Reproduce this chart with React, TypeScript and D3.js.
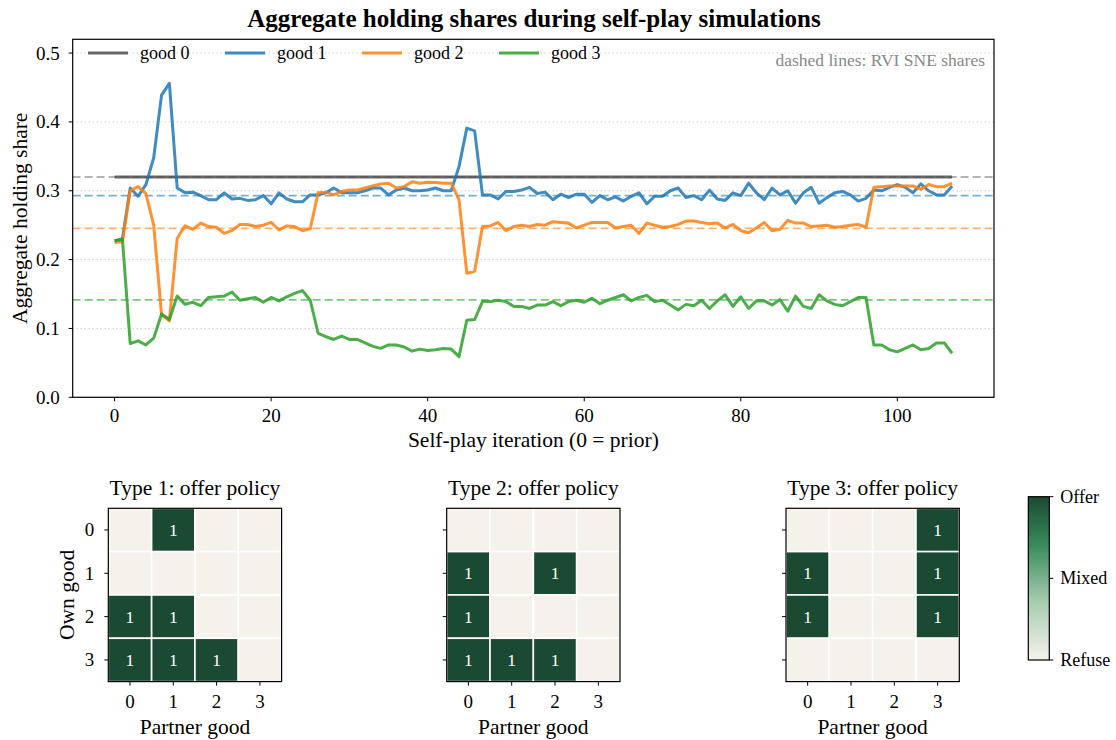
import React from "react";
import * as d3 from "d3";

// ---- data ----
const iterations = d3.range(0, 108);

const good0 = [
  0.32, 0.32, 0.32, 0.32, 0.32, 0.32, 0.32, 0.32, 0.32, 0.32, 0.32, 0.32,
  0.32, 0.32, 0.32, 0.32, 0.32, 0.32, 0.32, 0.32, 0.32, 0.32, 0.32, 0.32,
  0.32, 0.32, 0.32, 0.32, 0.32, 0.32, 0.32, 0.32, 0.32, 0.32, 0.32, 0.32,
  0.32, 0.32, 0.32, 0.32, 0.32, 0.32, 0.32, 0.32, 0.32, 0.32, 0.32, 0.32,
  0.32, 0.32, 0.32, 0.32, 0.32, 0.32, 0.32, 0.32, 0.32, 0.32, 0.32, 0.32,
  0.32, 0.32, 0.32, 0.32, 0.32, 0.32, 0.32, 0.32, 0.32, 0.32, 0.32, 0.32,
  0.32, 0.32, 0.32, 0.32, 0.32, 0.32, 0.32, 0.32, 0.32, 0.32, 0.32, 0.32,
  0.32, 0.32, 0.32, 0.32, 0.32, 0.32, 0.32, 0.32, 0.32, 0.32, 0.32, 0.32,
  0.32, 0.32, 0.32, 0.32, 0.32, 0.32, 0.32, 0.32, 0.32, 0.32, 0.32, 0.32,
];

const good1 = [
  0.227, 0.23, 0.304, 0.292, 0.309, 0.348, 0.439, 0.456, 0.304, 0.297,
  0.298, 0.293, 0.287, 0.287, 0.297, 0.288, 0.289, 0.286, 0.287, 0.293,
  0.281, 0.297, 0.288, 0.284, 0.284, 0.294, 0.294, 0.297, 0.304, 0.297,
  0.297, 0.297, 0.3, 0.304, 0.304, 0.294, 0.301, 0.304, 0.3, 0.3,
  0.301, 0.304, 0.3, 0.3, 0.335, 0.391, 0.387, 0.294, 0.294, 0.288,
  0.299, 0.299, 0.301, 0.305, 0.296, 0.298, 0.287, 0.295, 0.29, 0.295,
  0.295, 0.283, 0.293, 0.287, 0.291, 0.285, 0.292, 0.297, 0.281, 0.292,
  0.292, 0.3, 0.304, 0.29, 0.293, 0.287, 0.301, 0.288, 0.286, 0.297,
  0.293, 0.311, 0.297, 0.287, 0.304, 0.294, 0.3, 0.282, 0.297, 0.305,
  0.282, 0.29, 0.297, 0.299, 0.294, 0.285, 0.289, 0.301, 0.3, 0.305,
  0.309, 0.305, 0.297, 0.31, 0.3, 0.294, 0.294, 0.307,
];

const good2 = [
  0.225, 0.226, 0.3, 0.306, 0.296, 0.25, 0.12, 0.111, 0.231, 0.249,
  0.244, 0.253, 0.248, 0.247, 0.238, 0.242, 0.251, 0.251, 0.248, 0.25,
  0.254, 0.243, 0.249, 0.248, 0.242, 0.245, 0.297, 0.298, 0.294, 0.299,
  0.301, 0.301, 0.304, 0.307, 0.31, 0.311, 0.304, 0.306, 0.313, 0.311,
  0.3125, 0.312, 0.311, 0.311, 0.287, 0.18, 0.183, 0.248, 0.249, 0.254,
  0.242, 0.248, 0.25, 0.248, 0.251, 0.25, 0.255, 0.254, 0.253, 0.246,
  0.25, 0.254, 0.254, 0.254, 0.246, 0.248, 0.25, 0.238, 0.253, 0.25,
  0.247, 0.248, 0.251, 0.256, 0.256, 0.254, 0.252, 0.253, 0.246, 0.251,
  0.242, 0.239, 0.246, 0.254, 0.242, 0.244, 0.257, 0.253, 0.253, 0.248,
  0.249, 0.25, 0.247, 0.248, 0.25, 0.251, 0.247, 0.305, 0.306, 0.307,
  0.307, 0.307, 0.307, 0.302, 0.309, 0.306, 0.306, 0.311,
];

const good3 = [
  0.227, 0.23, 0.078, 0.082, 0.076, 0.086, 0.121, 0.113, 0.147, 0.135,
  0.138, 0.133, 0.145, 0.146, 0.147, 0.153, 0.141, 0.143, 0.145, 0.138,
  0.145, 0.14, 0.146, 0.151, 0.155, 0.141, 0.093, 0.088, 0.084, 0.089,
  0.084, 0.084, 0.079, 0.074, 0.071, 0.076, 0.076, 0.073, 0.067, 0.07,
  0.068, 0.069, 0.071, 0.07, 0.059, 0.112, 0.113, 0.139, 0.139, 0.141,
  0.139, 0.132, 0.132, 0.129, 0.134, 0.134, 0.139, 0.133, 0.139, 0.141,
  0.138, 0.144, 0.136, 0.141, 0.145, 0.149, 0.14, 0.145, 0.148, 0.139,
  0.141, 0.134, 0.127, 0.135, 0.133, 0.141, 0.129, 0.14, 0.149, 0.132,
  0.146, 0.129, 0.14, 0.14, 0.134, 0.142, 0.125, 0.147, 0.132, 0.129,
  0.149, 0.14, 0.135, 0.133, 0.139, 0.145, 0.145, 0.076, 0.076, 0.069,
  0.066, 0.071, 0.076, 0.069, 0.071, 0.079, 0.079, 0.064,
];

const seriesNames = ["good 0", "good 1", "good 2", "good 3"];
const seriesColors = ["#4d4d4d", "#1f77b4", "#ff7f0e", "#2ca02c"];
const sneShares = [0.32, 0.293, 0.2455, 0.1415];
const sneColors = ["#808080", "#1f77b4", "#ff7f0e", "#2ca02c"];
const yTicks = [0, 0.1, 0.2, 0.3, 0.4, 0.5];
const xTicks = [0, 20, 40, 60, 80, 100];

const goods = [0, 1, 2, 3];
const typeTitles = ["Type 1: offer policy", "Type 2: offer policy", "Type 3: offer policy"];
const type1Policy = [
  [0, 1, 0, 0],
  [0, 0, 0, 0],
  [1, 1, 0, 0],
  [1, 1, 1, 0],
];
const type2Policy = [
  [0, 0, 0, 0],
  [1, 0, 1, 0],
  [1, 0, 0, 0],
  [1, 1, 1, 0],
];
const type3Policy = [
  [0, 0, 0, 1],
  [1, 0, 0, 1],
  [1, 0, 0, 1],
  [0, 0, 0, 0],
];
const colorbarLabels = ["Refuse", "Mixed", "Offer"];

const FONT = "'Liberation Serif', 'DejaVu Serif', serif";
const TICK_FS = 19;
const LABEL_FS = 21.5;

function Heatmap({ x0, title, policy, showY, color }) {
  const size = 173.3;
  const top = 508.3;
  const bx = d3.scaleBand().domain(goods).range([x0, x0 + size]);
  const by = d3.scaleBand().domain(goods).range([top, top + size]);
  const bw = bx.bandwidth();
  return (
    <g>
      <text x={x0 + size / 2} y={495} textAnchor="middle" fontSize={LABEL_FS} fontFamily={FONT}>
        {title}
      </text>
      {policy.map((row, r) =>
        row.map((v, c) => (
          <g key={`${r}-${c}`}>
            <rect x={bx(c)} y={by(r)} width={bw} height={bw} fill={color(v)} stroke="#fff" strokeWidth={1.6} />
            {v > 0.5 && (
              <text
                x={bx(c) + bw / 2}
                y={by(r) + bw / 2 + 6}
                textAnchor="middle"
                fontSize={17.5}
                fill="#fff"
                fontFamily={FONT}
              >
                {v}
              </text>
            )}
          </g>
        ))
      )}
      <rect x={x0} y={top} width={size} height={size} fill="none" stroke="#000" strokeWidth={1.2} />
      {goods.map((g) => (
        <g key={`xt${g}`}>
          <line x1={bx(g) + bw / 2} x2={bx(g) + bw / 2} y1={top + size} y2={top + size + 4} stroke="#000" />
          <text x={bx(g) + bw / 2} y={top + size + 26} textAnchor="middle" fontSize={TICK_FS} fontFamily={FONT}>
            {g}
          </text>
          <line x1={x0 - 4} x2={x0} y1={by(g) + bw / 2} y2={by(g) + bw / 2} stroke="#000" />
          {showY && (
            <text x={x0 - 14} y={by(g) + bw / 2 + 6.5} textAnchor="end" fontSize={TICK_FS} fontFamily={FONT}>
              {g}
            </text>
          )}
        </g>
      ))}
      <text x={x0 + size / 2} y={734} textAnchor="middle" fontSize={LABEL_FS} fontFamily={FONT}>
        Partner good
      </text>
      {showY && (
        <text
          transform={`translate(${x0 - 34},${top + size / 2}) rotate(-90)`}
          textAnchor="middle"
          fontSize={LABEL_FS}
          fontFamily={FONT}
        >
          Own good
        </text>
      )}
    </g>
  );
}

export default function App() {
  const left = 72.7,
    right = 994,
    top = 39.3,
    bottom = 397.3;
  const x = d3.scaleLinear().domain([-5.35, 112.35]).range([left, right]);
  const y = d3.scaleLinear().domain([0, 0.52]).range([bottom, top]);
  const line = d3
    .line<number>()
    .x((_, i) => x(iterations[i]))
    .y((d) => y(d));
  const allSeries = [good0, good1, good2, good3];

  const color = d3
    .scaleLinear<string>()
    .domain([0, 0.35, 0.7, 1])
    .range(["#f5f2eb", "#a9cdb1", "#3a8c5c", "#1b4a33"]);

  const cbX = 1028.3,
    cbW = 21,
    cbTop = 496.7,
    cbBot = 660;
  const cbY = d3.scaleLinear().domain([0, 1]).range([cbBot, cbTop]);
  const stops = d3.range(0, 1.0001, 0.05);

  return (
    <svg width={1116} height={740} style={{ position: "absolute", left: 0, top: 0 }}>
      <defs>
        <linearGradient id="cb" x1="0" y1="1" x2="0" y2="0">
          {stops.map((s) => (
            <stop key={s} offset={s} stopColor={color(s)} />
          ))}
        </linearGradient>
        <clipPath id="plotclip">
          <rect x={left} y={top} width={right - left} height={bottom - top} />
        </clipPath>
      </defs>
      <rect width={1116} height={740} fill="#fff" />

      <text x={534} y={27} textAnchor="middle" fontSize={25} fontWeight="bold" fontFamily={FONT}>
        Aggregate holding shares during self-play simulations
      </text>

      {/* grid */}
      {yTicks.map((t) => (
        <line key={`g${t}`} x1={left} x2={right} y1={y(t)} y2={y(t)} stroke="#aaa" strokeWidth={0.9} strokeDasharray="1,3" />
      ))}

      {/* SNE dashed reference lines */}
      <g clipPath="url(#plotclip)">
        {sneShares.map((s, k) => (
          <line
            key={`s${k}`}
            x1={left}
            x2={right}
            y1={y(s)}
            y2={y(s)}
            stroke={sneColors[k]}
            strokeOpacity={0.6}
            strokeWidth={1.8}
            strokeDasharray="8,4"
          />
        ))}
        {allSeries.map((s, k) => (
          <path key={`l${k}`} d={line(s)} fill="none" stroke={seriesColors[k]} strokeOpacity={0.85} strokeWidth={3} strokeLinejoin="round" />
        ))}
      </g>

      {/* legend */}
      {seriesNames.map((n, k) => {
        const lx = 88 + k * 137;
        return (
          <g key={n}>
            <line x1={lx} x2={lx + 40} y1={53} y2={53} stroke={seriesColors[k]} strokeOpacity={0.85} strokeWidth={3.2} />
            <text x={lx + 52} y={59} fontSize={18} fontFamily={FONT}>
              {n}
            </text>
          </g>
        );
      })}
      <text x={985} y={66} textAnchor="end" fontSize={17.5} fill="#888" fontFamily={FONT}>
        dashed lines: RVI SNE shares
      </text>

      {/* axes frame */}
      <rect x={left} y={top} width={right - left} height={bottom - top} fill="none" stroke="#000" strokeWidth={1.2} />
      {yTicks.map((t) => (
        <g key={`yt${t}`}>
          <line x1={left - 4} x2={left} y1={y(t)} y2={y(t)} stroke="#000" />
          <text x={left - 13} y={y(t) + 6.5} textAnchor="end" fontSize={TICK_FS} fontFamily={FONT}>
            {d3.format(".1f")(t)}
          </text>
        </g>
      ))}
      {xTicks.map((t) => (
        <g key={`xt${t}`}>
          <line x1={x(t)} x2={x(t)} y1={bottom} y2={bottom + 4} stroke="#000" />
          <text x={x(t)} y={bottom + 25} textAnchor="middle" fontSize={TICK_FS} fontFamily={FONT}>
            {t}
          </text>
        </g>
      ))}
      <text x={(left + right) / 2} y={447} textAnchor="middle" fontSize={LABEL_FS} fontFamily={FONT}>
        Self-play iteration (0 = prior)
      </text>
      <text transform={`translate(27,${(top + bottom) / 2}) rotate(-90)`} textAnchor="middle" fontSize={LABEL_FS} fontFamily={FONT}>
        Aggregate holding share
      </text>

      {/* heatmaps */}
      <Heatmap x0={108.3} title={typeTitles[0]} policy={type1Policy} showY={true} color={color} />
      <Heatmap x0={446.7} title={typeTitles[1]} policy={type2Policy} showY={false} color={color} />
      <Heatmap x0={786} title={typeTitles[2]} policy={type3Policy} showY={false} color={color} />

      {/* colorbar */}
      <rect x={cbX} y={cbTop} width={cbW} height={cbBot - cbTop} fill="url(#cb)" stroke="#000" strokeWidth={1.2} />
      {colorbarLabels.map((l, k) => {
        const v = k / 2;
        return (
          <g key={l}>
            <line x1={cbX + cbW} x2={cbX + cbW + 4} y1={cbY(v)} y2={cbY(v)} stroke="#000" />
            <text x={cbX + cbW + 11} y={cbY(v) + 6} fontSize={18} fontFamily={FONT}>
              {l}
            </text>
          </g>
        );
      })}
    </svg>
  );
}
